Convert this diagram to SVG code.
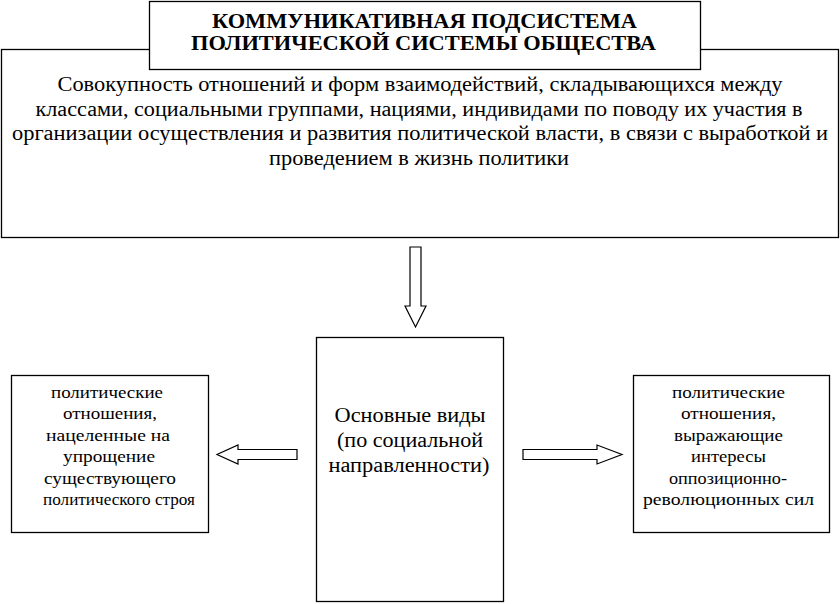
<svg xmlns="http://www.w3.org/2000/svg" width="840" height="604" viewBox="0 0 840 604">
<style>
.box{fill:#fff;stroke:#000;stroke-width:1.3}
.arr{fill:#fff;stroke:#000;stroke-width:1.2}
text{font-family:"Liberation Serif","Times New Roman",serif;fill:#000;text-anchor:middle}
.t{font-size:20px;font-weight:bold}
.m{font-size:20px}
.s{font-size:16.5px}
.c{font-size:20px}
</style>
<rect width="840" height="604" fill="#fff"/>
<g id="main">
<rect class="box" x="1.5" y="49.5" width="837" height="188"/>
<text class="m" x="420" y="91" textLength="725" lengthAdjust="spacingAndGlyphs">Совокупность отношений и форм взаимодействий, складывающихся между</text>
<text class="m" x="419" y="116" textLength="767" lengthAdjust="spacingAndGlyphs">классами, социальными группами, нациями, индивидами по поводу их участия в</text>
<text class="m" x="420" y="140" textLength="816" lengthAdjust="spacingAndGlyphs">организации осуществления и развития политической власти, в связи с выработкой и</text>
<text class="m" x="419" y="165" textLength="300" lengthAdjust="spacingAndGlyphs">проведением в жизнь политики</text>
</g>
<g id="title">
<rect class="box" x="149.5" y="1.5" width="551" height="68"/>
<text class="t" x="424.5" y="28" textLength="425" lengthAdjust="spacingAndGlyphs">КОММУНИКАТИВНАЯ ПОДСИСТЕМА</text>
<text class="t" x="423.5" y="50" textLength="465" lengthAdjust="spacingAndGlyphs">ПОЛИТИЧЕСКОЙ СИСТЕМЫ ОБЩЕСТВА</text>
</g>
<g id="connectors">
<polygon class="arr" points="410,247 421,247 421,306 426,306 415.5,327 405,306 410,306"/>
<polygon class="arr" points="297,449.5 238,449.5 238,445 217,454.5 238,464 238,459.5 297,459.5"/>
<polygon class="arr" points="523,449.5 597,449.5 597,445 622,454.5 597,464 597,459.5 523,459.5"/>
</g>
<g id="center">
<rect class="box" x="316.5" y="337.5" width="187" height="264"/>
<text class="c" x="410" y="422" textLength="151" lengthAdjust="spacingAndGlyphs">Основные виды</text>
<text class="c" x="410" y="447" textLength="146" lengthAdjust="spacingAndGlyphs">(по социальной</text>
<text class="c" x="409" y="472" textLength="161" lengthAdjust="spacingAndGlyphs">направленности)</text>
</g>
<g id="left">
<rect class="box" x="11.5" y="375.5" width="197" height="157"/>
<text class="s" x="107" y="398" textLength="112" lengthAdjust="spacingAndGlyphs">политические</text>
<text class="s" x="110" y="419" textLength="94" lengthAdjust="spacingAndGlyphs">отношения,</text>
<text class="s" x="108" y="441" textLength="124" lengthAdjust="spacingAndGlyphs">нацеленные на</text>
<text class="s" x="109" y="462" textLength="92" lengthAdjust="spacingAndGlyphs">упрощение</text>
<text class="s" x="110" y="484" textLength="132" lengthAdjust="spacingAndGlyphs">существующего</text>
<text class="s" x="119" y="505" textLength="152" lengthAdjust="spacingAndGlyphs">политического строя</text>
</g>
<g id="right">
<rect class="box" x="633.5" y="375.5" width="196" height="157"/>
<text class="s" x="728.5" y="398" textLength="113" lengthAdjust="spacingAndGlyphs">политические</text>
<text class="s" x="728.5" y="419" textLength="95" lengthAdjust="spacingAndGlyphs">отношения,</text>
<text class="s" x="728.5" y="441" textLength="109" lengthAdjust="spacingAndGlyphs">выражающие</text>
<text class="s" x="728.5" y="462" textLength="75" lengthAdjust="spacingAndGlyphs">интересы</text>
<text class="s" x="728" y="484" textLength="118" lengthAdjust="spacingAndGlyphs">оппозиционно-</text>
<text class="s" x="728.5" y="505" textLength="171" lengthAdjust="spacingAndGlyphs">революционных сил</text>
</g>
</svg>
